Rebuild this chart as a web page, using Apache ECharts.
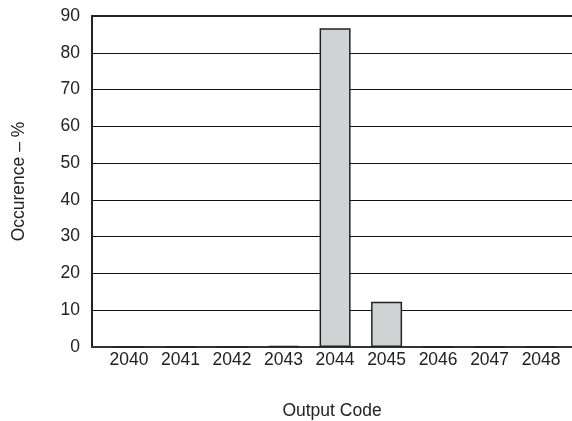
<!DOCTYPE html>
<html>
<head>
<meta charset="utf-8">
<script src="https://cdn.jsdelivr.net/npm/echarts@6/dist/echarts.min.js"></script>
<style>
  html, body { margin: 0; padding: 0; background: #fff; }
  #chart { width: 572px; height: 421px; }
</style>
</head>
<body>
<div id="chart"></div>
<script>
// output codes and how often each one came up (%)
const codes = [2040, 2041, 2042, 2043, 2044, 2045, 2046, 2047, 2048];
const occurence = [0, 0, 0, 0.3, 86.7, 12.3, 0, 0, 0];

const font = 'Liberation Sans, Arial, sans-serif';
const fs = 17.5;
const chart = echarts.init(document.getElementById('chart'), null, { renderer: 'canvas' });

const barData = [];
codes.forEach((c, i) => {
  barData.push([c, occurence[i]]);
});

chart.setOption({
  animation: false,
  backgroundColor: '#fff',
  grid: { left: 92, right: 0, top: 16, bottom: 74, outerBoundsMode: 'none' },
  xAxis: [
    {
      type: 'value',
      min: 2039.28,
      max: 2048.6,
      position: 'bottom',
      name: 'Output Code',
      nameLocation: 'middle',
      nameGap: 55,
      nameTextStyle: { fontFamily: font, fontSize: fs, color: '#222' },
      axisLine: { show: true, lineStyle: { color: '#333', width: 2 } },
      axisTick: { show: false },
      splitLine: { show: false },
      axisLabel: {
        customValues: codes,
        formatter: (v) => String(v),
        margin: 4,
        fontFamily: font,
        fontSize: fs,
        color: '#222'
      }
    },
    {
      type: 'value',
      min: 2039.28,
      max: 2048.6,
      position: 'top',
      axisLine: { show: true, lineStyle: { color: '#222', width: 2 } },
      axisTick: { show: false },
      axisLabel: { show: false },
      splitLine: { show: false }
    }
  ],
  yAxis: {
    type: 'value',
    min: 0,
    max: 90,
    interval: 10,
    name: 'Occurence – %',
    nameLocation: 'middle',
    nameGap: 64,
    nameTextStyle: { fontFamily: font, fontSize: fs, color: '#222' },
    axisLine: { show: true, lineStyle: { color: '#222', width: 2 } },
    axisTick: { show: false },
    axisLabel: { margin: 12, fontFamily: font, fontSize: fs, color: '#222' },
    splitLine: { show: true, lineStyle: { color: '#111', width: 1 } }
  },
  series: [
    {
      type: 'bar',
      xAxisIndex: 0,
      data: barData,
      barWidth: 31,
      itemStyle: { color: '#d1d2d4', borderColor: '#222', borderWidth: 1.5 }
    }
  ]
});
</script>
</body>
</html>
